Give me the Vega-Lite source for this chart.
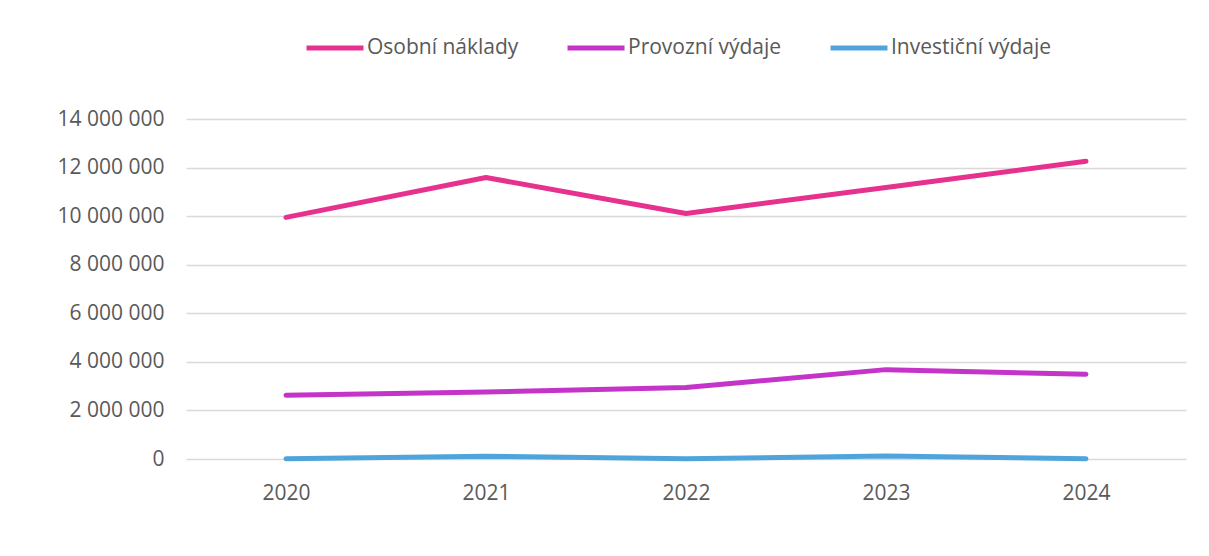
{
  "$schema": "https://vega.github.io/schema/vega-lite/v6.json",
  "width": 1000,
  "height": 340,
  "autosize": {"type": "none"},
  "padding": {"left": 186, "top": 119, "right": 23, "bottom": 97},
  "background": "white",
  "config": {
    "view": {"stroke": null},
    "font": "Open Sans",
    "locale": {"number": {"decimal": ",", "thousands": " ", "grouping": [3], "currency": ["", " Kč"]}},
    "axis": {"labelFont": "Open Sans", "labelFontSize": 21, "labelColor": "#595959", "ticks": false, "domain": false, "title": null},
    "legend": {"labelFont": "Open Sans", "labelFontSize": 21, "labelColor": "#595959", "labelLimit": 400}
  },
  "data": {
    "values": [
      {"rok": "2020", "kategorie": "Osobní náklady", "hodnota": 9950000},
      {"rok": "2021", "kategorie": "Osobní náklady", "hodnota": 11590000},
      {"rok": "2022", "kategorie": "Osobní náklady", "hodnota": 10110000},
      {"rok": "2023", "kategorie": "Osobní náklady", "hodnota": 11180000},
      {"rok": "2024", "kategorie": "Osobní náklady", "hodnota": 12260000},
      {"rok": "2020", "kategorie": "Provozní výdaje", "hodnota": 2630000},
      {"rok": "2021", "kategorie": "Provozní výdaje", "hodnota": 2760000},
      {"rok": "2022", "kategorie": "Provozní výdaje", "hodnota": 2940000},
      {"rok": "2023", "kategorie": "Provozní výdaje", "hodnota": 3680000},
      {"rok": "2024", "kategorie": "Provozní výdaje", "hodnota": 3490000},
      {"rok": "2020", "kategorie": "Investiční výdaje", "hodnota": 10000},
      {"rok": "2021", "kategorie": "Investiční výdaje", "hodnota": 110000},
      {"rok": "2022", "kategorie": "Investiční výdaje", "hodnota": 15000},
      {"rok": "2023", "kategorie": "Investiční výdaje", "hodnota": 120000},
      {"rok": "2024", "kategorie": "Investiční výdaje", "hodnota": 10000}
    ]
  },
  "mark": {"type": "line", "strokeWidth": 5, "strokeCap": "round", "strokeJoin": "round"},
  "encoding": {
    "x": {
      "field": "rok", "type": "ordinal",
      "scale": {"type": "point", "padding": 0.5},
      "axis": {"labelAngle": 0, "labelPadding": 23, "grid": false}
    },
    "y": {
      "field": "hodnota", "type": "quantitative",
      "scale": {"domain": [0, 14000000], "nice": false},
      "axis": {"values": [0, 2000000, 4000000, 6000000, 8000000, 10000000, 12000000, 14000000], "format": ",d", "labelPadding": 22, "grid": true, "gridColor": "#D9D9D9", "gridWidth": 1.5}
    },
    "color": {
      "field": "kategorie", "type": "nominal",
      "scale": {"domain": ["Osobní náklady", "Provozní výdaje", "Investiční výdaje"], "range": ["#E6318F", "#C534C9", "#4FA5DB"]},
      "legend": {
        "title": null, "orient": "none", "direction": "horizontal",
        "legendX": 118, "legendY": -102,
        "symbolType": "stroke", "symbolSize": 3249, "symbolStrokeWidth": 5,
        "labelOffset": 1, "columnPadding": 38
      }
    }
  }
}
